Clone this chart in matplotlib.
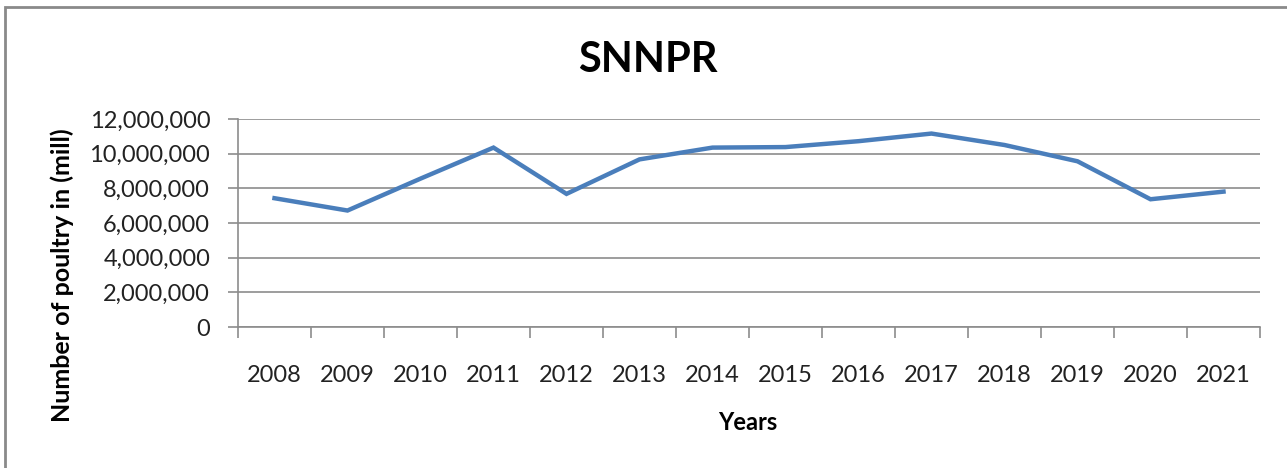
import matplotlib.pyplot as plt
from matplotlib.patches import Rectangle
from matplotlib.ticker import FuncFormatter, FixedLocator

years = [2008, 2009, 2010, 2011, 2012, 2013, 2014, 2015, 2016, 2017, 2018, 2019, 2020, 2021]
poultry = [7430000, 6720000, 8560000, 10350000, 7680000, 9670000, 10350000,
           10380000, 10720000, 11160000, 10500000, 9560000, 7370000, 7810000]

plt.rcParams["font.family"] = ["Lato", "DejaVu Sans"]

fig = plt.figure(figsize=(12.87, 4.68), dpi=100)
ax = fig.add_axes([238 / 1287, 1 - 327 / 468, (1260 - 238) / 1287, (327 - 119) / 468])

x = list(range(len(years)))
ax.plot(x, poultry, color="#4a7ebb", lw=3.2, solid_joinstyle="miter", zorder=3)

ax.set_xlim(-0.5, len(years) - 0.5)
ax.set_ylim(0, 12000000)
ax.set_yticks(range(0, 12000001, 2000000))
ax.yaxis.set_major_formatter(FuncFormatter(lambda v, p: f"{int(v):,}"))
ax.grid(axis="y", color="#8c8c8c", lw=1.2, zorder=1)

# category boundaries get the tick marks, labels sit in the middle
ax.xaxis.set_major_locator(FixedLocator([i - 0.5 for i in range(len(years) + 1)]))
ax.xaxis.set_minor_locator(FixedLocator(x))
ax.set_xticklabels([])
ax.set_xticklabels([str(y) for y in years], minor=True)
ax.tick_params(axis="x", which="major", length=8, width=1.2, color="#8c8c8c")
ax.tick_params(axis="x", which="minor", length=0, pad=27, labelsize=17, labelcolor="#222222")
ax.tick_params(axis="y", length=7, width=1.2, color="#8c8c8c", pad=13,
               labelsize=17, labelcolor="#222222")

for s in ["top", "right"]:
    ax.spines[s].set_visible(False)
for s in ["left", "bottom"]:
    ax.spines[s].set_color("#8c8c8c")
    ax.spines[s].set_linewidth(1.2)

fig.text(648 / 1287, 1 - 60 / 468, "SNNPR", ha="center", va="center",
         fontsize=30, fontweight="bold", color="black")
fig.text(62 / 1287, 1 - 275 / 468, "Number of poultry in (mill)", ha="center", va="center",
         rotation=90, fontsize=18, fontweight="bold", color="black")
fig.text(748 / 1287, 1 - 423 / 468, "Years", ha="center", va="center",
         fontsize=17, fontweight="bold", color="black")

# chart frame
fig.patches.append(Rectangle((5 / 1287, -0.1), 1.2, 1 - 7 / 468 + 0.1,
                             transform=fig.transFigure, fill=False,
                             edgecolor="#8a8a8a", lw=2))

fig.savefig("out.png", dpi=100)
